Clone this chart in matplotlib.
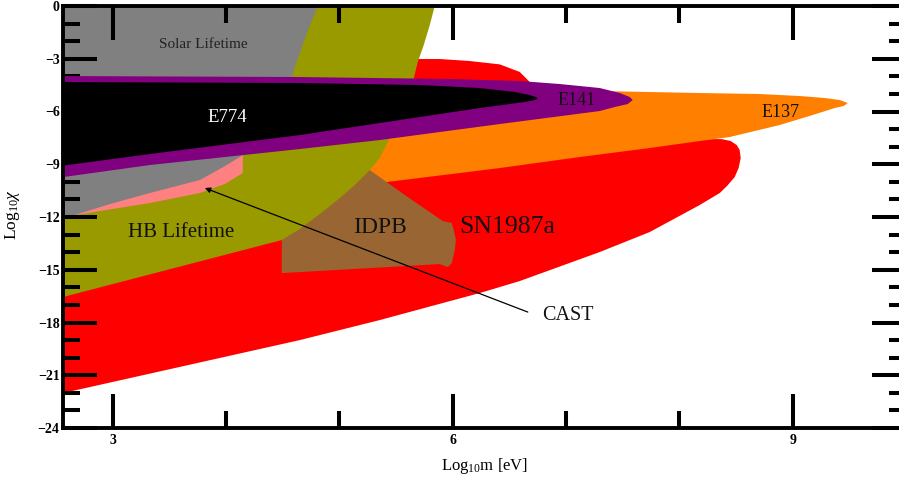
import matplotlib
matplotlib.use("Agg")
import matplotlib.pyplot as plt
from matplotlib.ticker import MultipleLocator, FuncFormatter

# ---- region boundaries (log10 m [eV], log10 chi) ----
red_m = [2.5, 4.65, 5.356, 6.238, 6.591, 7.297, 7.738, 8.179, 8.356, 8.42, 8.488, 8.523, 8.541, 8.532, 8.506, 8.453, 8.374, 8.268, 8.118,
         7.738, 7.297, 6.944, 6.679, 6.591, 6.415, 6.150, 5.885, 5.665, 4.65, 2.5]
red_chi = [-22.1, -19.0, -17.861, -16.325, -15.643, -13.993, -12.856, -11.320, -10.637, -10.24, -9.73, -9.21, -8.65, -8.19, -7.91, -7.68, -7.57, -7.57, -7.679,
           -7.053, -6.2, -5.2, -4.32, -3.75, -3.32, -3.129, -3.015, -3.015, -3.015, -3.015]

e137_m = [4.65, 5.974, 7.297, 8.179, 8.709, 9.062, 9.283, 9.415, 9.486, 9.450, 9.371, 9.177, 8.885, 8.444, 8.179, 7.738, 7.121, 6.415, 5.418, 4.65]
e137_chi = [-5.063, -4.949, -4.835, -4.949, -5.006, -5.119, -5.233, -5.347, -5.518, -5.688, -5.802, -6.200, -6.769, -7.452, -7.679, -8.077, -8.589, -9.215, -10.011, -10.637]

idpb_m = [4.491, 5.179, 5.268, 5.577, 5.912, 5.991, 6.009, 6.027, 6.018, 5.991, 5.956, 5.885, 4.65, 4.491]
idpb_chi = [-8.760, -9.044, -9.329, -10.751, -12.230, -12.344, -12.742, -13.311, -13.879, -14.619, -14.846, -14.676, -15.131, -15.188]

hb_m = [2.5, 5.841, 5.841, 5.797, 5.744, 5.691, 5.656, 5.577, 5.515, 5.435, 5.356, 5.268, 5.135, 5.003, 4.827, 4.65, 4.491, 2.5]
hb_chi = [0.5, 0.5, 0.0, -1.081, -2.218, -3.185, -4.096, -5.631, -6.598, -7.622, -8.646, -9.329, -10.182, -10.922, -11.832, -12.685, -13.311, -16.65]

cast_m = [2.603, 2.885, 3.326, 3.768, 3.988, 4.147, 4.147, 3.768, 2.603]
cast_chi = [-11.974, -11.661, -11.206, -10.637, -10.125, -9.499, -7.907, -8.191, -11.604]

solar_m = [2.5, 4.809, 4.809, 4.712, 4.606, 4.544, 4.429, 4.279, 4.147, 4.006, 3.768, 3.326, 2.974, 2.665, 2.5]
solar_chi = [0.5, 0.5, 0.0, -1.536, -3.470, -4.778, -6.485, -7.736, -8.476, -9.044, -9.898, -10.637, -11.263, -11.889, -12.03]

e141_m = [2.5, 4.65, 5.974, 6.591, 6.944, 7.297, 7.474, 7.562, 7.588, 7.544, 7.430, 7.297, 6.415, 5.356, 4.65, 3.326, 2.5]
e141_chi = [-3.982, -4.039, -4.152, -4.266, -4.437, -4.664, -4.949, -5.176, -5.347, -5.575, -5.745, -5.973, -6.712, -7.622, -8.134, -9.044, -9.784]

e774_m = [2.5, 4.65, 5.709, 6.238, 6.547, 6.679, 6.732, 6.750, 6.724, 6.635, 6.238, 5.532, 4.65, 3.326, 2.5]
e774_chi = [-4.323, -4.380, -4.494, -4.664, -4.892, -5.063, -5.176, -5.262, -5.347, -5.461, -5.802, -6.485, -7.338, -8.419, -9.130]

# CAST arrow (tail, head)
cast_arrow_m = [6.662, 3.812]
cast_arrow_chi = [-17.406, -10.353]

x_ticks = [3, 6, 9]
y_ticks = [0, -3, -6, -9, -12, -15, -18, -21, -24]

plt.rcParams['font.family'] = ['Liberation Serif', 'DejaVu Serif']
plt.rcParams['mathtext.fontset'] = 'custom'
plt.rcParams['mathtext.rm'] = 'Liberation Serif'
plt.rcParams['mathtext.it'] = 'Liberation Serif:italic'

fig = plt.figure(figsize=(8.99, 4.80), dpi=100)
ax = fig.add_axes([63/899, 52/480, 843/899, 422/480])

regions = [
    (red_m, red_chi, '#ff0000'),
    (e137_m, e137_chi, '#ff8000'),
    (idpb_m, idpb_chi, '#996633'),
    (hb_m, hb_chi, '#999900'),
    (cast_m, cast_chi, '#ff8080'),
    (solar_m, solar_chi, '#808080'),
    (e141_m, e141_chi, '#800080'),
    (e774_m, e774_chi, '#000000'),
]
for i, (xs, ys, c) in enumerate(regions):
    ax.fill(xs, ys, color=c, lw=0, zorder=1 + i * 0.1)

ax.annotate('', xy=(cast_arrow_m[1], cast_arrow_chi[1]), xytext=(cast_arrow_m[0], cast_arrow_chi[0]),
            arrowprops=dict(arrowstyle='-|>', color='black', lw=0.9, mutation_scale=8, shrinkA=0, shrinkB=0),
            zorder=5)

ax.text(3.794, -2.162, 'Solar Lifetime', fontsize=11, ha='center', va='center', color='#222222', zorder=6)
ax.text(4.006, -6.314, 'E774', fontsize=13.5, ha='center', va='center', color='white', zorder=6)
ax.text(7.094, -5.347, 'E141', fontsize=13, ha='center', va='center', color='#111111', zorder=6)
ax.text(8.894, -6.030, 'E137', fontsize=13, ha='center', va='center', color='#111111', zorder=6)
ax.text(3.60, -12.856, 'HB Lifetime', fontsize=15, ha='center', va='center', color='#111111', zorder=6)
ax.text(5.356, -12.571, 'IDPB', fontsize=17, ha='center', va='center', color='#111111', zorder=6)
ax.text(6.485, -12.571, 'SN1987a', fontsize=18.5, ha='center', va='center', color='#111111', zorder=6)
ax.text(6.785, -17.577, 'CAST', fontsize=14.5, ha='left', va='center', color='#111111', zorder=6)

ax.set_xlim(2.56, 10.0)
ax.set_ylim(-24, 0)

ax.xaxis.set_minor_locator(MultipleLocator(1))
ax.yaxis.set_minor_locator(MultipleLocator(1))
ax.set_xticks(x_ticks)
ax.set_yticks(y_ticks)
fmt = FuncFormatter(lambda v, p: ('\u2212%d' % -v) if v < 0 else '%d' % v)
ax.yaxis.set_major_formatter(fmt)
ax.xaxis.set_major_formatter(fmt)

ax.tick_params(which='both', direction='in', top=True, right=True, width=2.9, color='black', zorder=10)
ax.tick_params(which='major', length=24.5)
ax.tick_params(which='minor', length=12)
ax.tick_params(axis='x', which='major', labelsize=10, pad=4)
ax.tick_params(axis='y', which='major', labelsize=10, pad=2.5)
for lab in ax.get_xticklabels() + ax.get_yticklabels():
    lab.set_fontweight('bold')

for s in ['left', 'bottom', 'top']:
    ax.spines[s].set_linewidth(2.8)
    ax.spines[s].set_zorder(10)
ax.spines['right'].set_visible(False)

ax.set_xlabel(r'Log$_{10}$m [eV]', fontsize=12)
ax.xaxis.set_label_coords(0.5, -0.066)
ax.set_ylabel(r'Log$_{10}\chi$', fontsize=12.5)
ax.yaxis.set_label_coords(-0.049, 0.505)

fig.savefig('out.png', dpi=100)
